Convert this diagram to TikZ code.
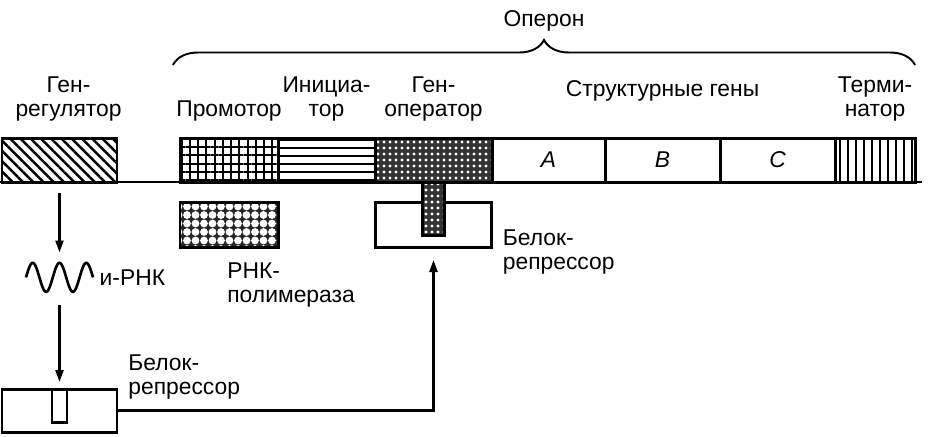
\documentclass[tikz,border=0pt]{standalone}
\usepackage{fontspec}
\setmainfont{Liberation Sans}
\usetikzlibrary{arrows.meta, positioning, calc, patterns.meta, decorations.pathreplacing}

\begin{document}
\begin{tikzpicture}[x=0.2mm, y=-0.2mm, font=\fontsize{13pt}{13.7pt}\selectfont, node distance=0mm,
  box/.style={draw, line width=1.7pt, outer sep=0pt, inner sep=0pt},
  gene/.style={box, minimum height=8.8mm},
  lbl/.style={align=center, inner sep=0pt},
  reglines/.style={pattern={Lines[angle=-45, distance=1.45mm, line width=0.5mm]}},
  promgrid/.style={pattern={Hatch[distance=1.65mm, line width=0.4mm]}},
  initlines/.style={pattern={Lines[distance=1.6mm, line width=0.4mm]}},
  operdots/.style={preaction={fill=black!80}, pattern={Dots[distance=1.2mm, radius=0.32mm]},
                   pattern color=white},
  poldots/.style={preaction={fill=black!85}, pattern={Dots[distance=1.7mm, radius=0.78mm]},
                  pattern color=white},
  termlines/.style={pattern={Lines[angle=90, distance=1.6mm, line width=0.55mm]}},
  a/.style={-{Triangle[length=2.4mm, width=1.6mm]}, line width=1.3pt},
  brc/.style={decorate, decoration={brace, amplitude=5mm}, line width=1.1pt}]
  \useasboundingbox (0,0) rectangle (940,436);

  \coordinate (dnaL) at (0,182);
  \coordinate (dnaR) at (922,182);
  \draw[line width=1.6pt] (dnaL) -- (dnaR);

  \node[gene, reglines, minimum width=23mm, anchor=south west] (reg) at (2,182) {};
  \node[gene, promgrid, minimum width=19.6mm, anchor=south west] (prom) at (180,182) {};
  \node[gene, initlines, minimum width=19.4mm, right=of prom] (init) {};
  \node[gene, operdots, minimum width=23.4mm, right=of init] (oper) {};
  \node[gene, minimum width=22.6mm, right=of oper] (genA) {\itshape A};
  \node[gene, minimum width=23mm, right=of genA] (genB) {\itshape B};
  \node[gene, minimum width=23mm, right=of genB] (genC) {\itshape C};
  \node[gene, termlines, minimum width=16mm, right=of genC] (term) {};

  \node[box, poldots, minimum width=19.6mm, minimum height=9mm, below=4mm of prom] (pol) {};
  \node[box, minimum width=23.2mm, minimum height=9mm, below=4mm of oper] (rep2) {};
  \node[box, operdots, minimum width=4.4mm, minimum height=10.6mm, anchor=north] (stem) at (oper.south) {};

  \node[minimum width=13.4mm, minimum height=5.8mm, inner sep=0pt, below=16.1mm of reg] (mrna) {};
  \draw[line width=1.5pt, shift={(mrna.center)}]
    plot[domain=0:900, samples=91, smooth] ({-33.5+\x/900*67}, {-14.5*sin(\x)});
  \node[box, minimum width=23mm, minimum height=8.6mm, below=41.4mm of reg] (rep1) {};
  \node[box, minimum width=3mm, minimum height=6.6mm, anchor=north] (slot) at (rep1.north) {};

  \draw[a, shorten <=2.2mm, shorten >=2mm] (reg) -- (mrna);
  \draw[a, shorten <=2.6mm, shorten >=1.4mm] (mrna) -- (rep1);
  \draw[a, shorten >=2.6mm] (rep1.east) -| (rep2.south);

  \coordinate (opl) at (173,65);
  \coordinate (opr) at (915,65);
  \coordinate (optip) at ($(opl)!0.5!(opr)+(0,-25)$);
  \draw[brc] (opl) -- (opr);
  \node[lbl, above=1.6mm of optip] (operon) {Оперон};

  \node[lbl, above=3.2mm of reg, xshift=1.8mm] (reglbl) {Ген-\\регулятор};
  \node[lbl, above=3.2mm of prom] (promlbl) {Промотор};
  \node[lbl, above=3.2mm of init] (initlbl) {Инициа-\\тор};
  \node[lbl, above=3.2mm of oper] (operlbl) {Ген-\\оператор};
  \node[lbl, above=7.2mm of genB] (strlbl) {Структурные гены};
  \node[lbl, above=3.2mm of term] (termlbl) {Терми-\\натор};

  \node[lbl, align=left, below right=3mm and -0.4mm of pol.south] (pollbl) {РНК-\\полимераза};
  \node[lbl, right=1.2mm of mrna] (mrnalbl) {и-РНК};
  \node[lbl, align=left, below right=0.9mm and 2.2mm of rep2.east] (rep2lbl) {Белок-\\репрессор};
  \node[lbl, align=left, below right=-7mm and 2.2mm of rep1.north east] (rep1lbl) {Белок-\\репрессор};
\end{tikzpicture}
\end{document}
